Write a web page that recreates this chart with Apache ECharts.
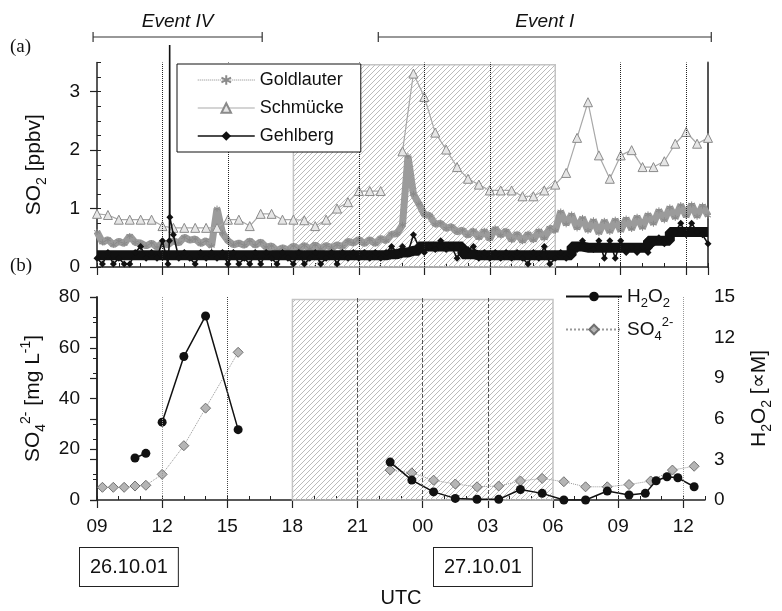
<!DOCTYPE html>
<html><head><meta charset="utf-8">
<script src="https://cdn.jsdelivr.net/npm/echarts@6/dist/echarts.min.js"></script>
<style>html,body{margin:0;padding:0;background:#fff}#c{width:782px;height:611px}</style>
</head><body><div id="c"></div>
<script>
// Time axis: hours since 26.10.01 09:00 UTC
const xTickLabels = ['09','12','15','18','21','00','03','06','09','12'];
const so2Step = 0.25;       // hours between Goldlauter / Gehlberg samples
const levelStep = 0.5;      // hours between Gehlberg baseline levels
const schmueckeStep = 0.5;  // hours between Schmücke samples

const goldlauter = [
0.60,0.42,0.47,0.38,0.44,0.40,0.53,0.42,0.41,0.36,0.41,0.34,0.41,0.38,0.45,0.41,0.51,0.46,0.48,0.40,
0.45,0.36,1.00,0.58,0.45,0.38,0.41,0.37,0.45,0.37,0.43,0.34,0.36,0.28,0.33,0.29,0.36,
0.31,0.37,0.31,0.38,0.31,0.37,0.33,0.38,0.35,0.44,0.41,0.47,0.40,0.47,0.40,0.49,0.45,0.56,
0.57,0.72,1.90,1.25,1.08,0.90,0.88,0.73,0.75,0.66,0.69,0.60,0.63,0.54,
0.62,0.50,0.62,0.48,0.66,0.54,0.62,0.46,0.57,0.44,0.57,0.46,0.62,0.49,0.67,0.62,
0.95,0.73,0.90,0.66,0.84,0.62,0.80,0.58,0.79,0.60,0.81,0.62,0.83,0.65,0.86,0.67,0.90,0.74,0.97,0.80,
1.02,0.84,1.06,0.87,1.07,0.86,1.05,0.88];

const gehlberg = [
0.15,0.05,0.25,0.05,0.15,0.05,0.05,0.25,0.35,0.15,0.25,0.15,0.45,0.05,0.55,0.15,0.25,0.15,0.05,0.25,
0.15,0.25,0.15,0.25,0.05,0.25,0.05,0.15,0.05,0.25,0.05,0.25,0.15,0.05,0.25,0.15,0.05,
0.25,0.05,0.15,0.25,0.05,0.15,0.25,0.05,0.25,0.15,0.25,0.15,0.25,0.15,0.25,0.15,0.25,0.35,
0.25,0.35,0.25,0.55,0.35,0.25,
0.35,0.30,0.45,0.30,0.35,0.15,0.35,0.30,
0.35,0.15,0.25,0.15,0.25,0.15,0.25,0.15,0.25,0.15,0.05,0.25,0.15,0.35,0.05,0.15,
0.25,0.15,0.25,0.30,0.45,0.35,
0.30,0.45,0.15,0.45,0.15,0.45,0.25,0.35,0.25,0.35,0.25,
0.40,0.50,0.40,0.50,
0.60,0.75,0.55,0.75,0.60,0.55,0.40];
// dense baseline level of the Gehlberg record (half-hourly)
const gehlbergLevel = [
0.2,0.2,0.2,0.2,0.2,0.2,0.2,0.2,0.2,0.2,0.2,0.2,0.2,0.2,0.2,0.2,0.2,0.2,0.2,0.2,0.2,0.2,0.2,0.2,0.2,0.2,
0.2,0.22,0.25,0.28,0.35,0.35,0.35,0.35,0.22,0.2,
0.2,0.2,0.2,0.2,0.2,0.2,0.2,0.2,
0.35,0.33,0.33,0.33,0.33,0.33,0.33,0.45,0.45,0.6,0.6,0.6,0.6];
// short Gehlberg excursion near 12:20 (hour, ppbv)
const gehlbergSpikeTimes = [3.32, 3.33, 3.34];
const gehlbergSpikeVals  = [0.45, 3.80, 0.85];

const schmuecke = [
0.91,0.89,0.81,0.81,0.81,0.81,0.70,0.67,0.67,0.67,0.67,0.67,0.81,0.81,0.70,0.91,0.91,0.81,0.81,0.80,
0.70,0.81,1.00,1.11,1.30,1.30,1.30,null,1.98,3.31,2.91,2.30,2.01,1.71,1.51,1.41,1.31,1.31,1.31,1.21,
1.21,1.31,1.41,1.61,2.21,2.82,1.91,1.51,1.91,2.00,1.71,1.71,1.81,2.11,2.31,2.11,2.21];

const so4Times = [0.25,0.75,1.25,1.75,2.25,3.0,4.0,5.0,6.5,10,13.5,14.5,15.5,16.5,17.5,18.5,19.5,20.5,21.5,22.5,23.5,24.5,25.5,26.5,27.5];
const so4Vals  = [5.0,5.0,5.0,5.5,5.8,10.1,21.4,36.2,58.2,null,11.8,10.7,7.8,6.3,5.2,5.5,7.5,8.5,7.2,5.2,5.2,6.1,7.5,11.8,13.3];

const h2o2Times = [1.75,2.25,2.6,3.0,4.0,5.0,6.5,10,13.5,14.5,15.5,16.5,17.5,18.5,19.5,20.5,21.5,22.5,23.5,24.5,25.25,25.75,26.25,26.75,27.5];
const h2o2Vals  = [3.1,3.45,null,5.75,10.6,13.6,5.2,null,2.8,1.47,0.6,0.12,0.05,0.05,0.78,0.49,0,0,0.66,0.37,0.49,1.42,1.72,1.64,0.98];

const hatchHours = [9, 21];          // 18:00 – 06:00
const guideHoursA = [3, 6, 12, 15, 18, 24, 27];
const eventIV = [-0.18, 7.57];
const eventI = [12.89, 28.15];

const F = 'Liberation Sans';
const gap = v => (v === null ? '-' : v);

const goldData = goldlauter.map((v, i) => [i * so2Step, v]);
const gehlData = gehlberg.map((v, i) => [i * so2Step, v])
  .concat(gehlbergSpikeTimes.map((t, i) => [t, gehlbergSpikeVals[i]]))
  .sort((a, b) => a[0] - b[0])
  .map(p => (p[1] > 3.5 ? { value: p, symbol: 'none' } : p));
const gehlLevelData = gehlbergLevel.map((v, i) => [i * levelStep, v]);
const schData = schmuecke.map((v, i) => [i * schmueckeStep, gap(v)]);
const so4Data = so4Times.map((t, i) => [t, gap(so4Vals[i])]);
const h2o2Data = h2o2Times.map((t, i) => [t, gap(h2o2Vals[i])]);

function hatch() {
  const s = 5, c = document.createElement('canvas');
  c.width = s; c.height = s;
  const g = c.getContext('2d');
  g.strokeStyle = '#b3b3b3'; g.lineWidth = 0.9;
  g.beginPath();
  g.moveTo(0, s); g.lineTo(s, 0);
  g.moveTo(-1, 1); g.lineTo(1, -1);
  g.moveTo(s - 1, s + 1); g.lineTo(s + 1, s - 1);
  g.stroke();
  return c;
}
const hatchFill = { image: hatch(), repeat: 'repeat' };

const mkRich = (fs) => ({
  n: { fontSize: fs, fontFamily: F, color: '#111', lineHeight: fs + 8 },
  sub: { fontSize: Math.round(fs * 0.68), fontFamily: F, color: '#111', lineHeight: 14, verticalAlign: 'bottom' },
  sup: { fontSize: Math.round(fs * 0.68), fontFamily: F, color: '#111', lineHeight: 14, verticalAlign: 'top' }
});
const richName = mkRich(21);
const richLeg = mkRich(19);
const axLine = { show: true, lineStyle: { color: '#222', width: 1.5 } };
const lbl = { fontSize: 19, fontFamily: F, color: '#111' };

const gridA = { left: 97, right: 74, top: 62.5, height: 204.5 };
const gridB = { left: 97, right: 74, top: 297, height: 203 };

const asterisk = 'path://M0,-5L0,5M-4.3,-2.5L4.3,2.5M-4.3,2.5L4.3,-2.5';

const option = {
  animation: false,
  backgroundColor: '#fff',
  grid: [gridA, gridB],
  xAxis: [
    { gridIndex: 0, type: 'value', min: 0, max: 28, interval: 3, axisLine: axLine,
      axisTick: { length: 8, lineStyle: { color: '#222', width: 1.2 } }, axisLabel: { show: false }, splitLine: { show: false } },
    { gridIndex: 0, type: 'value', min: 0, max: 28, interval: 1, axisLine: { show: false },
      axisTick: { length: 4, lineStyle: { color: '#222', width: 1 } }, axisLabel: { show: false }, splitLine: { show: false } },
    { gridIndex: 1, type: 'value', min: 0, max: 28, interval: 3, axisLine: axLine,
      axisTick: { length: 8, lineStyle: { color: '#222', width: 1.2 } },
      axisLabel: Object.assign({ margin: 17, showMaxLabel: false,
        formatter: v => xTickLabels[Math.round(v / 3)] || '' }, lbl),
      splitLine: { show: false },
      name: 'UTC', nameLocation: 'middle', nameGap: 88, nameTextStyle: { fontSize: 20, fontFamily: F, color: '#111' } },
    { gridIndex: 1, type: 'value', min: 0, max: 28, interval: 1, axisLine: { show: false },
      axisTick: { length: 4, lineStyle: { color: '#222', width: 1 } }, axisLabel: { show: false }, splitLine: { show: false } }
  ],
  yAxis: [
    { gridIndex: 0, type: 'value', min: 0, max: 3.5, interval: 1, axisLine: axLine,
      axisTick: { length: 7, lineStyle: { color: '#222', width: 1.2 } },
      axisLabel: Object.assign({ margin: 17, showMaxLabel: false }, lbl), splitLine: { show: false },
      name: '{n|SO}{sub|2}{n| [ppbv]}', nameLocation: 'middle', nameRotate: 90, nameGap: 48,
      nameTextStyle: { rich: richName } },
    { gridIndex: 0, type: 'value', min: 0, max: 3.5, interval: 0.25, axisLine: { show: false },
      axisTick: { length: 4, lineStyle: { color: '#222', width: 1 } }, axisLabel: { show: false }, splitLine: { show: false } },
    { gridIndex: 0, type: 'value', position: 'right', min: 0, max: 3.5,
      axisLine: { show: true, lineStyle: { color: '#555', width: 2 } }, axisTick: { show: false }, axisLabel: { show: false }, splitLine: { show: false } },
    { gridIndex: 1, type: 'value', min: 0, max: 80, interval: 20, axisLine: axLine,
      axisTick: { length: 7, lineStyle: { color: '#222', width: 1.2 } },
      minorTick: { show: true, splitNumber: 2, length: 4, lineStyle: { color: '#222', width: 1 } },
      axisLabel: Object.assign({ margin: 17 }, lbl), splitLine: { show: false },
      name: '{n|SO}{sub|4}{sup|2-}{n| [mg L}{sup|-1}{n|]}', nameLocation: 'middle', nameRotate: 90, nameGap: 48,
      nameTextStyle: { rich: richName } },
    { gridIndex: 1, type: 'value', position: 'right', min: 0, max: 15, interval: 3, axisLine: axLine,
      axisTick: { inside: true, length: 7, lineStyle: { color: '#222', width: 1.2 } },
      minorTick: { show: true, splitNumber: 2, length: 4, lineStyle: { color: '#222', width: 1 } },
      axisLabel: Object.assign({ margin: 9 }, lbl), splitLine: { show: false },
      name: '{n|H}{sub|2}{n|O}{sub|2}{n| [∝M]}', nameLocation: 'middle', nameRotate: 90, nameGap: 40,
      nameTextStyle: { rich: richName } }
  ],
  legend: [
    { left: 177, top: 64, orient: 'vertical', itemWidth: 57, itemHeight: 12, itemGap: 8,
      padding: [6, 17, 6, 20], borderColor: '#111', borderWidth: 1, backgroundColor: '#fff', z: 20,
      textStyle: { fontSize: 18, fontFamily: F, color: '#111', lineHeight: 20 },
      data: [
        { name: 'Goldlauter', lineStyle: { width: 1, type: 'dotted', color: '#888' } },
        { name: 'Schmücke', lineStyle: { width: 1.2, color: '#aaa' } },
        { name: 'Gehlberg', lineStyle: { width: 1.5, color: '#111' }, itemStyle: { color: '#111' } }
      ] },
    { left: 565, top: 287, orient: 'vertical', itemWidth: 56, itemHeight: 12, itemGap: 6, padding: 0,
      textStyle: { rich: richLeg },
      formatter: name => name === 'H2O2' ? '{n|H}{sub|2}{n|O}{sub|2}' : '{n|SO}{sub|4}{sup|2-}',
      data: ['H2O2', 'SO4 2-'] }
  ],
  series: [
    { name: 'Goldlauter', type: 'line', xAxisIndex: 0, yAxisIndex: 0, data: goldData, z: 2,
      lineStyle: { color: '#9b9b9b', width: 7 }, symbol: asterisk, symbolSize: 6,
      itemStyle: { color: '#8a8a8a', borderColor: '#8a8a8a', borderWidth: 1 } },
    { name: 'Schmücke', type: 'line', xAxisIndex: 0, yAxisIndex: 0, data: schData, z: 3,
      lineStyle: { color: '#a8a8a8', width: 1.2 }, symbol: 'triangle', symbolSize: 9,
      itemStyle: { color: '#e6e6e6', borderColor: '#8a8a8a', borderWidth: 1 } },
    { name: 'Gehlberg', type: 'line', xAxisIndex: 0, yAxisIndex: 0, data: gehlData, z: 5, clip: false,
      lineStyle: { color: '#111', width: 1.6 }, symbol: 'diamond', symbolSize: 7,
      itemStyle: { color: '#111' } },
    { name: 'Gehlberg', type: 'line', xAxisIndex: 0, yAxisIndex: 0, data: gehlLevelData, z: 4,
      step: 'middle', lineStyle: { color: '#111', width: 10 }, symbol: 'none', itemStyle: { color: '#111' } },
    { name: 'hatchA', type: 'line', xAxisIndex: 0, yAxisIndex: 0, data: [], z: 6, silent: true,
      markArea: { silent: true, itemStyle: { color: hatchFill, borderColor: '#c4c4c4', borderWidth: 1.5 },
        data: [[{ xAxis: hatchHours[0], yAxis: 0 }, { xAxis: hatchHours[1], yAxis: 3.46 }]] },
      markLine: { silent: true, symbol: ['none', 'none'], label: { show: false },
        lineStyle: { type: 'dotted', color: '#222', width: 1 },
        data: guideHoursA.map(h => ({ xAxis: h })) } },
    { name: 'H2O2', type: 'line', xAxisIndex: 2, yAxisIndex: 4, data: h2o2Data, z: 4,
      lineStyle: { color: '#111', width: 1.5 }, symbol: 'circle', symbolSize: 9,
      itemStyle: { color: '#111' } },
    { name: 'SO4 2-', type: 'line', xAxisIndex: 2, yAxisIndex: 3, data: so4Data, z: 3,
      lineStyle: { color: '#999', width: 1, type: 'dotted' }, symbol: 'diamond', symbolSize: 10,
      itemStyle: { color: '#b5b5b5', borderColor: '#707070', borderWidth: 1 } },
    { name: 'hatchB', type: 'line', xAxisIndex: 2, yAxisIndex: 3, data: [], z: 1, silent: true,
      markArea: { silent: true, itemStyle: { color: hatchFill, borderColor: '#c4c4c4', borderWidth: 1.5 },
        data: [[{ xAxis: hatchHours[0], yAxis: 0 }, { xAxis: hatchHours[1], yAxis: 79 }]] },
      markLine: { silent: true, symbol: ['none', 'none'], label: { show: false },
        data: [
          { xAxis: 3, lineStyle: { type: 'dotted', color: '#999', width: 1 } },
          { xAxis: 6, lineStyle: { type: 'dotted', color: '#444', width: 1 } },
          { xAxis: 12, lineStyle: { type: 'dashed', color: '#555', width: 1 } },
          { xAxis: 15, lineStyle: { type: 'dashed', color: '#555', width: 1 } },
          { xAxis: 18, lineStyle: { type: 'dashed', color: '#555', width: 1 } },
          { xAxis: 24, lineStyle: { type: 'dotted', color: '#444', width: 1 } },
          { xAxis: 27, lineStyle: { type: 'dotted', color: '#999', width: 1 } }
        ] } }
  ]
};

const chart = echarts.init(document.getElementById('c'), null, { renderer: 'canvas' });
chart.setOption(option);

const px = t => chart.convertToPixel({ xAxisIndex: 0 }, t);
function bracket(ev, text) {
  const x1 = px(ev[0]), x2 = px(ev[1]), y = 37;
  return [
    { type: 'line', shape: { x1, y1: y, x2, y2: y }, style: { stroke: '#333', lineWidth: 1.2 } },
    { type: 'line', shape: { x1, y1: y - 5, x2: x1, y2: y + 5 }, style: { stroke: '#333', lineWidth: 1.2 } },
    { type: 'line', shape: { x1: x2, y1: y - 5, x2, y2: y + 5 }, style: { stroke: '#333', lineWidth: 1.2 } },
    { type: 'text', x: (x1 + x2) / 2, y: 22, style: { text, font: 'italic 19px "Liberation Sans"', fill: '#111', align: 'center', verticalAlign: 'middle' } }
  ];
}
const dateBox = (text, left) => ({ type: 'text', left, top: 547,
  style: { text, font: '20px "Liberation Sans"', fill: '#111', backgroundColor: '#fff', borderColor: '#222', borderWidth: 1, padding: [9, 10] } });

chart.setOption({ graphic: [
  ...bracket(eventIV, 'Event IV'),
  ...bracket(eventI, 'Event I'),
  { type: 'text', left: 10, top: 38, style: { text: '(a)', font: '19px "Liberation Serif"', fill: '#111' } },
  { type: 'text', left: 10, top: 257, style: { text: '(b)', font: '19px "Liberation Serif"', fill: '#111' } },
  dateBox('26.10.01', 79),
  dateBox('27.10.01', 433)
] });
</script>
</body></html>
